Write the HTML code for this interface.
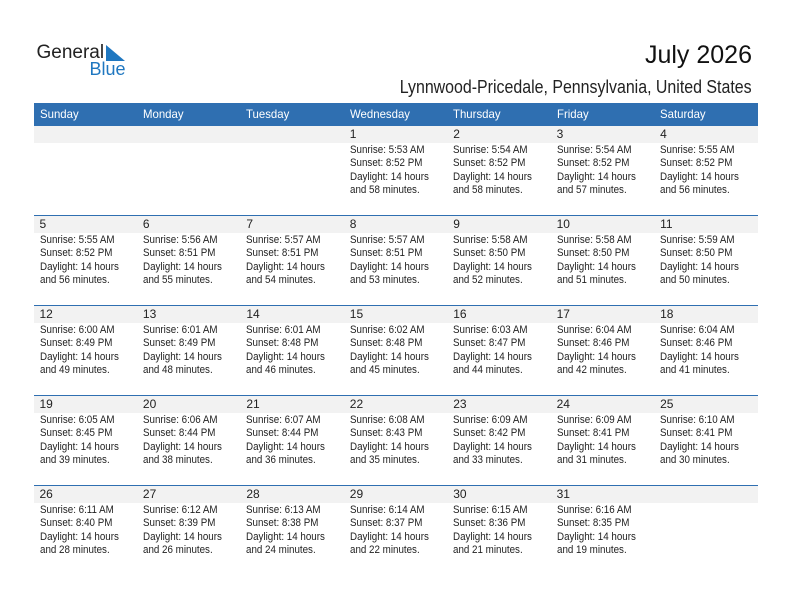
<!DOCTYPE html>
<html><head><meta charset="utf-8"><style>
*{margin:0;padding:0;box-sizing:border-box}
body{width:792px;height:612px;background:#fff;position:relative;overflow:hidden;font-family:"Liberation Sans",Arial,sans-serif;color:#222}
.a{position:absolute}
.hdr{position:absolute;left:34px;top:103px;width:724px;height:23px;background:#2f6fb1}
.hn{position:absolute;top:103px;height:23px;line-height:23px;font-size:12px;color:#fff;transform:scaleX(.95);transform-origin:0 0;white-space:nowrap}
.band{position:absolute;left:34px;width:724px;height:17px;background:#f2f2f2}
.line{position:absolute;left:34px;width:724px;height:1px;background:#2f6fb1}
.c{position:absolute;width:103px;height:90px}
.n{position:absolute;left:5.5px;top:0;font-size:12px;line-height:17px;white-space:nowrap}
.t{position:absolute;left:5.5px;top:17.6px;font-size:11px;line-height:13.5px;transform:scaleX(.89);transform-origin:0 0;white-space:nowrap}
</style></head><body>
<div class="a" style="left:36.5px;top:42px;font-size:19px;line-height:22px;color:#222;white-space:nowrap">General</div>
<div class="a" style="left:89.5px;top:58px;font-size:18px;line-height:22px;color:#1f77c0;white-space:nowrap">Blue</div>
<svg class="a" style="left:0;top:0" width="140" height="80"><polygon points="106,45 125,61 106,61" fill="#1f77c0"/></svg>
<div class="a" style="right:40px;top:39.5px;font-size:25px;line-height:30px;color:#111;white-space:nowrap">July 2026</div>
<div class="a" style="right:40px;top:76px;font-size:18px;line-height:22px;color:#222;white-space:nowrap;transform:scaleX(.885);transform-origin:100% 0">Lynnwood-Pricedale, Pennsylvania, United States</div>

<div class="hdr"></div>
<div class="hn" style="left:39.5px">Sunday</div>
<div class="hn" style="left:143px">Monday</div>
<div class="hn" style="left:246.4px">Tuesday</div>
<div class="hn" style="left:349.8px">Wednesday</div>
<div class="hn" style="left:453.2px">Thursday</div>
<div class="hn" style="left:556.6px">Friday</div>
<div class="hn" style="left:660px">Saturday</div>

<div class="band" style="top:126px"></div>
<div class="line" style="top:215px"></div><div class="band" style="top:216px"></div>
<div class="line" style="top:305px"></div><div class="band" style="top:306px"></div>
<div class="line" style="top:395px"></div><div class="band" style="top:396px"></div>
<div class="line" style="top:485px"></div><div class="band" style="top:486px"></div>

<!-- Row 0 -->
<div class="c" style="left:344.29px;top:126px"><div class="n">1</div><div class="t">Sunrise: 5:53 AM<br>Sunset: 8:52 PM<br>Daylight: 14 hours<br>and 58 minutes.</div></div>
<div class="c" style="left:447.71px;top:126px"><div class="n">2</div><div class="t">Sunrise: 5:54 AM<br>Sunset: 8:52 PM<br>Daylight: 14 hours<br>and 58 minutes.</div></div>
<div class="c" style="left:551.14px;top:126px"><div class="n">3</div><div class="t">Sunrise: 5:54 AM<br>Sunset: 8:52 PM<br>Daylight: 14 hours<br>and 57 minutes.</div></div>
<div class="c" style="left:654.57px;top:126px"><div class="n">4</div><div class="t">Sunrise: 5:55 AM<br>Sunset: 8:52 PM<br>Daylight: 14 hours<br>and 56 minutes.</div></div>

<!-- Row 1 -->
<div class="c" style="left:34px;top:216px"><div class="n">5</div><div class="t">Sunrise: 5:55 AM<br>Sunset: 8:52 PM<br>Daylight: 14 hours<br>and 56 minutes.</div></div>
<div class="c" style="left:137.43px;top:216px"><div class="n">6</div><div class="t">Sunrise: 5:56 AM<br>Sunset: 8:51 PM<br>Daylight: 14 hours<br>and 55 minutes.</div></div>
<div class="c" style="left:240.86px;top:216px"><div class="n">7</div><div class="t">Sunrise: 5:57 AM<br>Sunset: 8:51 PM<br>Daylight: 14 hours<br>and 54 minutes.</div></div>
<div class="c" style="left:344.29px;top:216px"><div class="n">8</div><div class="t">Sunrise: 5:57 AM<br>Sunset: 8:51 PM<br>Daylight: 14 hours<br>and 53 minutes.</div></div>
<div class="c" style="left:447.71px;top:216px"><div class="n">9</div><div class="t">Sunrise: 5:58 AM<br>Sunset: 8:50 PM<br>Daylight: 14 hours<br>and 52 minutes.</div></div>
<div class="c" style="left:551.14px;top:216px"><div class="n">10</div><div class="t">Sunrise: 5:58 AM<br>Sunset: 8:50 PM<br>Daylight: 14 hours<br>and 51 minutes.</div></div>
<div class="c" style="left:654.57px;top:216px"><div class="n">11</div><div class="t">Sunrise: 5:59 AM<br>Sunset: 8:50 PM<br>Daylight: 14 hours<br>and 50 minutes.</div></div>

<!-- Row 2 -->
<div class="c" style="left:34px;top:306px"><div class="n">12</div><div class="t">Sunrise: 6:00 AM<br>Sunset: 8:49 PM<br>Daylight: 14 hours<br>and 49 minutes.</div></div>
<div class="c" style="left:137.43px;top:306px"><div class="n">13</div><div class="t">Sunrise: 6:01 AM<br>Sunset: 8:49 PM<br>Daylight: 14 hours<br>and 48 minutes.</div></div>
<div class="c" style="left:240.86px;top:306px"><div class="n">14</div><div class="t">Sunrise: 6:01 AM<br>Sunset: 8:48 PM<br>Daylight: 14 hours<br>and 46 minutes.</div></div>
<div class="c" style="left:344.29px;top:306px"><div class="n">15</div><div class="t">Sunrise: 6:02 AM<br>Sunset: 8:48 PM<br>Daylight: 14 hours<br>and 45 minutes.</div></div>
<div class="c" style="left:447.71px;top:306px"><div class="n">16</div><div class="t">Sunrise: 6:03 AM<br>Sunset: 8:47 PM<br>Daylight: 14 hours<br>and 44 minutes.</div></div>
<div class="c" style="left:551.14px;top:306px"><div class="n">17</div><div class="t">Sunrise: 6:04 AM<br>Sunset: 8:46 PM<br>Daylight: 14 hours<br>and 42 minutes.</div></div>
<div class="c" style="left:654.57px;top:306px"><div class="n">18</div><div class="t">Sunrise: 6:04 AM<br>Sunset: 8:46 PM<br>Daylight: 14 hours<br>and 41 minutes.</div></div>

<!-- Row 3 -->
<div class="c" style="left:34px;top:396px"><div class="n">19</div><div class="t">Sunrise: 6:05 AM<br>Sunset: 8:45 PM<br>Daylight: 14 hours<br>and 39 minutes.</div></div>
<div class="c" style="left:137.43px;top:396px"><div class="n">20</div><div class="t">Sunrise: 6:06 AM<br>Sunset: 8:44 PM<br>Daylight: 14 hours<br>and 38 minutes.</div></div>
<div class="c" style="left:240.86px;top:396px"><div class="n">21</div><div class="t">Sunrise: 6:07 AM<br>Sunset: 8:44 PM<br>Daylight: 14 hours<br>and 36 minutes.</div></div>
<div class="c" style="left:344.29px;top:396px"><div class="n">22</div><div class="t">Sunrise: 6:08 AM<br>Sunset: 8:43 PM<br>Daylight: 14 hours<br>and 35 minutes.</div></div>
<div class="c" style="left:447.71px;top:396px"><div class="n">23</div><div class="t">Sunrise: 6:09 AM<br>Sunset: 8:42 PM<br>Daylight: 14 hours<br>and 33 minutes.</div></div>
<div class="c" style="left:551.14px;top:396px"><div class="n">24</div><div class="t">Sunrise: 6:09 AM<br>Sunset: 8:41 PM<br>Daylight: 14 hours<br>and 31 minutes.</div></div>
<div class="c" style="left:654.57px;top:396px"><div class="n">25</div><div class="t">Sunrise: 6:10 AM<br>Sunset: 8:41 PM<br>Daylight: 14 hours<br>and 30 minutes.</div></div>

<!-- Row 4 -->
<div class="c" style="left:34px;top:486px"><div class="n">26</div><div class="t">Sunrise: 6:11 AM<br>Sunset: 8:40 PM<br>Daylight: 14 hours<br>and 28 minutes.</div></div>
<div class="c" style="left:137.43px;top:486px"><div class="n">27</div><div class="t">Sunrise: 6:12 AM<br>Sunset: 8:39 PM<br>Daylight: 14 hours<br>and 26 minutes.</div></div>
<div class="c" style="left:240.86px;top:486px"><div class="n">28</div><div class="t">Sunrise: 6:13 AM<br>Sunset: 8:38 PM<br>Daylight: 14 hours<br>and 24 minutes.</div></div>
<div class="c" style="left:344.29px;top:486px"><div class="n">29</div><div class="t">Sunrise: 6:14 AM<br>Sunset: 8:37 PM<br>Daylight: 14 hours<br>and 22 minutes.</div></div>
<div class="c" style="left:447.71px;top:486px"><div class="n">30</div><div class="t">Sunrise: 6:15 AM<br>Sunset: 8:36 PM<br>Daylight: 14 hours<br>and 21 minutes.</div></div>
<div class="c" style="left:551.14px;top:486px"><div class="n">31</div><div class="t">Sunrise: 6:16 AM<br>Sunset: 8:35 PM<br>Daylight: 14 hours<br>and 19 minutes.</div></div>
</body></html>
